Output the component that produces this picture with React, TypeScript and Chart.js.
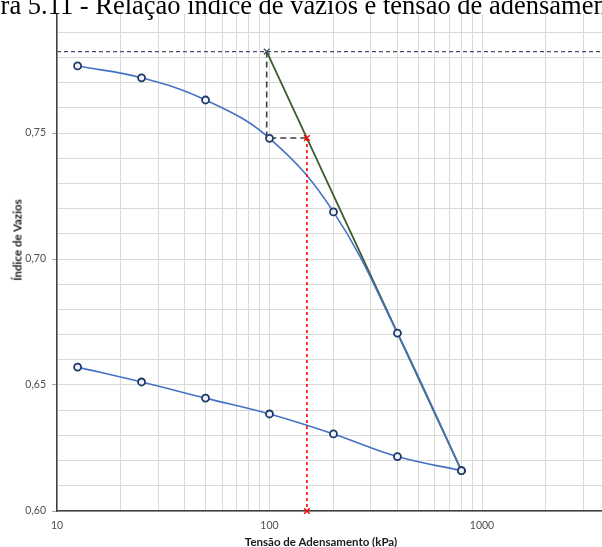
import React, { useEffect, useRef } from 'react';
import { Chart, registerables } from 'chart.js';

Chart.register(...registerables);

// Ensaio de adensamento: carregamento e descarregamento
const loadPressures = [12.5, 25, 50, 100, 200, 400, 800];
const loadVoids = [0.7766, 0.7719, 0.7631, 0.7479, 0.7187, 0.6706, 0.616];
const unloadPressures = [800, 400, 200, 100, 50, 25, 12.5];
const unloadVoids = [0.616, 0.6216, 0.6306, 0.6385, 0.6448, 0.6512, 0.6571];

// Construção de Pacheco Silva
const e0Line = { x: [10, 3670], y: [0.7823, 0.7823] };
const e0Point = { x: [97], y: [0.7823] };
const constructX = [97, 97, 150];
const constructY = [0.7823, 0.748, 0.748];
const virginX = [97, 800];
const virginY = [0.7823, 0.616];
const preconX = [150, 150];
const preconY = [0.748, 0.6];

// Eixos
const xMin = 10;
const xMax = 3670;
const xGridValues = [10, 20, 30, 40, 50, 60, 70, 80, 90, 100, 200, 300, 400, 500, 600, 700, 800, 900, 1000, 2000, 3000];
const xLabelValues = [10, 100, 1000];
const yMin = 0.6;
const yMax = 0.8;
const yStep = 0.01;
const yLabelValues = [0.6, 0.65, 0.7, 0.75];

const titleText = 'Figura 5.11 - Relação índice de vazios e tensão de adensamento';
const xTitle = 'Tensão de Adensamento (kPa)';
const yTitle = 'Índice de Vazios';

const pts = (xs: number[], ys: number[]) => xs.map((x, i) => ({ x, y: ys[i] }));
const isYLabel = (v: number) => yLabelValues.some((l) => Math.abs(l - v) < 1e-6);

export default function App() {
  const ref = useRef<HTMLCanvasElement | null>(null);

  useEffect(() => {
    if (!ref.current) return;
    const blue = '#4472c4';
    const markerBorder = '#1f3864';
    const markerFill = '#eef2fa';
    const chart = new Chart(ref.current, {
      type: 'scatter',
      data: {
        datasets: [
          {
            data: pts(loadPressures, loadVoids),
            showLine: true,
            tension: 0.4,
            borderColor: blue,
            borderWidth: 1.6,
            pointRadius: 3.5,
            pointBorderWidth: 1.8,
            pointBorderColor: markerBorder,
            pointBackgroundColor: markerFill,
            order: 1,
          },
          {
            data: pts(unloadPressures, unloadVoids),
            showLine: true,
            tension: 0.4,
            borderColor: blue,
            borderWidth: 1.6,
            pointRadius: 3.5,
            pointBorderWidth: 1.8,
            pointBorderColor: markerBorder,
            pointBackgroundColor: markerFill,
            order: 1,
          },
          {
            data: pts(virginX, virginY),
            showLine: true,
            borderColor: '#3d5c2b',
            borderWidth: 1.8,
            pointRadius: 0,
            order: 2,
          },
          {
            data: pts(e0Line.x, e0Line.y),
            showLine: true,
            borderColor: '#44546a',
            borderWidth: 1.3,
            borderDash: [4, 3],
            pointRadius: 0,
            order: 3,
          },
          {
            data: pts(e0Point.x, e0Point.y),
            showLine: false,
            pointStyle: 'crossRot',
            pointRadius: 4,
            pointBorderWidth: 1.3,
            pointBorderColor: '#44546a',
            order: 0,
          },
          {
            data: pts(constructX, constructY),
            showLine: true,
            borderColor: '#404040',
            borderWidth: 1.6,
            borderDash: [6, 4],
            pointRadius: 0,
            order: 3,
          },
          {
            data: pts(preconX, preconY),
            showLine: true,
            borderColor: '#ff0000',
            borderWidth: 1.6,
            borderDash: [3, 3],
            pointStyle: 'crossRot',
            pointRadius: 4,
            pointBorderWidth: 1.4,
            pointBorderColor: '#ff0000',
            clip: false as any,
            order: 0,
          },
        ],
      },
      options: {
        responsive: false,
        animation: false,
        layout: { autoPadding: false, padding: { top: 7, left: 0, right: 0, bottom: 0 } },
        plugins: { legend: { display: false }, tooltip: { enabled: false }, title: { display: false } },
        scales: {
          x: {
            type: 'logarithmic',
            min: xMin,
            max: xMax,
            afterBuildTicks: (axis: any) => {
              axis.ticks = xGridValues.map((v) => ({ value: v }));
            },
            afterFit: (scale: any) => {
              scale.height = 36;
              scale.paddingLeft = 0;
              scale.paddingRight = 0;
            },
            grid: { color: '#d9d9d9', lineWidth: 1, drawTicks: false },
            border: { color: '#404040', width: 1.5 },
            ticks: {
              autoSkip: false,
              maxRotation: 0,
              padding: 8,
              color: '#4d4d4d',
              font: { family: 'Lato', size: 10.5 },
              callback: (value: any) => (xLabelValues.includes(Number(value)) ? String(value) : ''),
            },
          },
          y: {
            type: 'linear',
            min: yMin,
            max: yMax,
            afterFit: (scale: any) => {
              scale.width = 57;
              scale.paddingTop = 0;
              scale.paddingBottom = 0;
            },
            grid: {
              color: '#d9d9d9',
              lineWidth: 1,
              tickLength: 5,
              tickColor: (ctx: any) => (ctx.tick && isYLabel(ctx.tick.value) ? '#a6a6a6' : 'rgba(0,0,0,0)'),
            },
            border: { color: '#404040', width: 1.5 },
            ticks: {
              stepSize: yStep,
              autoSkip: false,
              padding: 6,
              color: '#4d4d4d',
              font: { family: 'Lato', size: 10.5 },
              callback: (value: any) => (isYLabel(Number(value)) ? Number(value).toFixed(2).replace('.', ',') : ''),
            },
          },
        },
      },
    } as any);
    return () => chart.destroy();
  }, []);

  return (
    <div style={{ position: 'fixed', left: 0, top: 0, width: 602, height: 547, overflow: 'hidden', background: '#fff' }}>
      <canvas ref={ref} width={602} height={547} style={{ position: 'absolute', left: 0, top: 0, width: 602, height: 547 }} />
      <div style={{ position: 'absolute', left: 0, top: 0, width: 602, height: 14, background: '#fff' }} />
      <div
        style={{
          position: 'absolute',
          left: -48,
          top: -8,
          whiteSpace: 'nowrap',
          fontFamily: '"Liberation Serif", "Times New Roman", serif',
          fontSize: 26.5,
          lineHeight: '27px',
          color: '#000',
        }}
      >
        {titleText}
      </div>
      <div
        style={{
          position: 'absolute',
          left: 321,
          top: 541,
          transform: 'translate(-50%, -50%)',
          whiteSpace: 'nowrap',
          fontFamily: 'Lato, "Open Sans", sans-serif',
          fontWeight: 700,
          fontSize: 11.5,
          color: '#1a1a1a',
        }}
      >
        {xTitle}
      </div>
      <div
        style={{
          position: 'absolute',
          left: 17,
          top: 240,
          transform: 'translate(-50%, -50%) rotate(-90deg)',
          whiteSpace: 'nowrap',
          fontFamily: 'Lato, "Open Sans", sans-serif',
          fontWeight: 700,
          fontSize: 11.5,
          color: '#1a1a1a',
        }}
      >
        {yTitle}
      </div>
    </div>
  );
}
